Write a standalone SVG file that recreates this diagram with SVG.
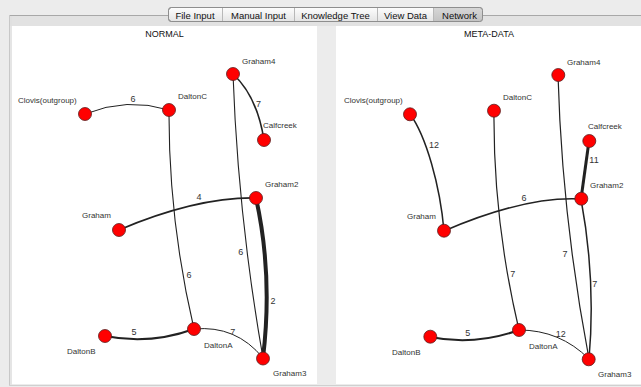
<svg xmlns="http://www.w3.org/2000/svg" width="641" height="387" viewBox="0 0 641 387">
<defs>
<linearGradient id="tabg" x1="0" y1="0" x2="0" y2="1"><stop offset="0" stop-color="#fdfdfd"/><stop offset="1" stop-color="#e4e4e4"/></linearGradient>
<linearGradient id="tabsel" x1="0" y1="0" x2="0" y2="1"><stop offset="0" stop-color="#d6d6d6"/><stop offset="1" stop-color="#c2c2c2"/></linearGradient>
</defs>
<style>
.tab{font-family:"Liberation Sans",Arial,sans-serif;font-size:9.5px;fill:#111;text-anchor:middle}
.title{font-family:"Liberation Sans",Arial,sans-serif;font-size:9px;fill:#111;text-anchor:middle}
.nl{font-family:"Liberation Sans",Arial,sans-serif;font-size:8px;fill:#333}
.el{font-family:"Liberation Sans",Arial,sans-serif;font-size:9px;fill:#333;text-anchor:middle}
.node{fill:#ff0000;stroke:#5a2020;stroke-width:0.8}
.e{fill:none;stroke:#222}
</style>
<rect x="0" y="0" width="641" height="387" fill="#ececec"/>
<!-- tab pane frame -->
<rect x="9" y="15" width="632" height="11" fill="#e2e2e2"/>
<line x1="9" y1="15.5" x2="641" y2="15.5" stroke="#a8a8a8"/>
<line x1="9.5" y1="15" x2="9.5" y2="386" stroke="#c8c8c8"/>
<line x1="11" y1="16" x2="11" y2="385" stroke="#dedede"/>
<line x1="9" y1="385.5" x2="641" y2="385.5" stroke="#d0d0d0"/>
<!-- panels -->
<rect x="12" y="26" width="305" height="358" fill="#ffffff"/>
<rect x="336" y="26" width="305" height="358" fill="#ffffff"/>
<!-- tabs -->
<g id="tabs">
<rect x="168.5" y="7.5" width="314" height="14" rx="3" fill="url(#tabg)" stroke="#8e8e8e"/>
<path d="M433,8 H479.5 A3,3 0 0 1 482.5,11 V18.5 A3,3 0 0 1 479.5,21.5 H433 Z" fill="url(#tabsel)"/>
<rect x="168.5" y="7.5" width="314" height="14" rx="3" fill="none" stroke="#8e8e8e"/>
<g stroke="#b8b8b8"><line x1="222.5" y1="8" x2="222.5" y2="21"/><line x1="294.5" y1="8" x2="294.5" y2="21"/><line x1="377.5" y1="8" x2="377.5" y2="21"/><line x1="433.5" y1="8" x2="433.5" y2="21"/></g>
<text class="tab" x="195" y="18.5">File Input</text>
<text class="tab" x="258.5" y="18.5">Manual Input</text>
<text class="tab" x="335.5" y="18.5">Knowledge Tree</text>
<text class="tab" x="405.5" y="18.5">View Data</text>
<text class="tab" x="459.5" y="18.5">Network</text>
</g>
<text class="title" x="164.5" y="36.5">NORMAL</text>
<text class="title" x="489" y="36.5">META-DATA</text>
<!-- LEFT connectors -->
<g id="edges-normal">
<path class="e" d="M85,114 Q127,97 169,110" stroke-width="1" stroke="#444"/>
<path class="e" d="M233,74 Q257,96 264,140" stroke-width="1.6"/>
<path class="e" d="M233,74 Q238,216 263,358" stroke-width="1.1"/>
<path class="e" d="M169,110 Q168.5,220 194,329" stroke-width="1.1"/>
<path class="e" d="M119,230 Q197,197 256,198" stroke-width="1.8"/>
<path class="e" d="M256,198 Q273,275 263,358" stroke-width="4"/>
<path class="e" d="M105,336 Q150,345 194,329" stroke-width="2"/>
<path class="e" d="M194,329 Q236,325 263,358" stroke-width="1" stroke="#444"/>
<text class="el" x="133" y="102">6</text>
<text class="el" x="258.5" y="107">7</text>
<text class="el" x="199" y="200">4</text>
<text class="el" x="189" y="278">6</text>
<text class="el" x="240.7" y="255">6</text>
<text class="el" x="273" y="304">2</text>
<text class="el" x="134" y="335">5</text>
<text class="el" x="232.7" y="334.7">7</text>
</g>
<!-- RIGHT connectors -->
<g id="edges-meta">
<path class="e" d="M410,114 C426,136 440,185 444,231" stroke-width="1.5"/>
<path class="e" d="M494,111 Q493,220 519,330" stroke-width="1.2"/>
<path class="e" d="M558,75 Q562,217 589,359" stroke-width="1.2"/>
<path class="e" d="M589,141 L581,199" stroke-width="3" stroke="#555"/>
<path class="e" d="M589,141 L581,199" stroke-width="1.3" stroke="#c8c8c8"/>
<path class="e" d="M444,231 Q525,196 581,199" stroke-width="1.6"/>
<path class="e" d="M581,199 Q596,280 589,359" stroke-width="1.5"/>
<path class="e" d="M430,337 Q475,346 519,330" stroke-width="2"/>
<path class="e" d="M519,330 Q560,330 589,359" stroke-width="1" stroke="#444"/>
<text class="el" x="434" y="148">12</text>
<text class="el" x="594" y="163">11</text>
<text class="el" x="524" y="201">6</text>
<text class="el" x="512.7" y="277">7</text>
<text class="el" x="565" y="257">7</text>
<text class="el" x="594.7" y="287">7</text>
<text class="el" x="467.7" y="335.7">5</text>
<text class="el" x="560.7" y="337.3">12</text>
</g>
<!-- LEFT nodes -->
<g id="n-Graham4"><circle class="node" cx="233" cy="74" r="6.5"/><text class="nl" x="242" y="64">Graham4</text></g>
<g id="n-Clovis"><circle class="node" cx="85" cy="114" r="6.5"/><text class="nl" x="18" y="103">Clovis(outgroup)</text></g>
<g id="n-DaltonC"><circle class="node" cx="169" cy="110" r="6.5"/><text class="nl" x="178" y="99">DaltonC</text></g>
<g id="n-Calfcreek"><circle class="node" cx="264" cy="140" r="6.5"/><text class="nl" x="263" y="128">Calfcreek</text></g>
<g id="n-Graham2"><circle class="node" cx="256" cy="198" r="6.5"/><text class="nl" x="265" y="187">Graham2</text></g>
<g id="n-Graham"><circle class="node" cx="119" cy="230" r="6.5"/><text class="nl" x="82" y="218">Graham</text></g>
<g id="n-DaltonB"><circle class="node" cx="105" cy="336" r="6.5"/><text class="nl" x="67" y="354">DaltonB</text></g>
<g id="n-DaltonA"><circle class="node" cx="194" cy="329" r="6.5"/><text class="nl" x="204" y="348">DaltonA</text></g>
<g id="n-Graham3"><circle class="node" cx="263" cy="358.5" r="6.5"/><text class="nl" x="273" y="376">Graham3</text></g>
<!-- RIGHT nodes -->
<g id="m-Graham4"><circle class="node" cx="558.3" cy="75" r="6.5"/><text class="nl" x="567" y="64.5">Graham4</text></g>
<g id="m-Clovis"><circle class="node" cx="410" cy="114.3" r="6.5"/><text class="nl" x="344" y="103">Clovis(outgroup)</text></g>
<g id="m-DaltonC"><circle class="node" cx="494" cy="110.7" r="6.5"/><text class="nl" x="503" y="99.5">DaltonC</text></g>
<g id="m-Calfcreek"><circle class="node" cx="589.3" cy="141" r="6.5"/><text class="nl" x="588" y="129">Calfcreek</text></g>
<g id="m-Graham2"><circle class="node" cx="581.3" cy="198.7" r="6.5"/><text class="nl" x="590" y="188">Graham2</text></g>
<g id="m-Graham"><circle class="node" cx="444" cy="230.7" r="6.5"/><text class="nl" x="407" y="218.5">Graham</text></g>
<g id="m-DaltonB"><circle class="node" cx="430.3" cy="336.7" r="6.5"/><text class="nl" x="392" y="354.5">DaltonB</text></g>
<g id="m-DaltonA"><circle class="node" cx="519" cy="330" r="6.5"/><text class="nl" x="529" y="348.5">DaltonA</text></g>
<g id="m-Graham3"><circle class="node" cx="588.7" cy="359.3" r="6.5"/><text class="nl" x="598" y="377">Graham3</text></g>
</svg>
